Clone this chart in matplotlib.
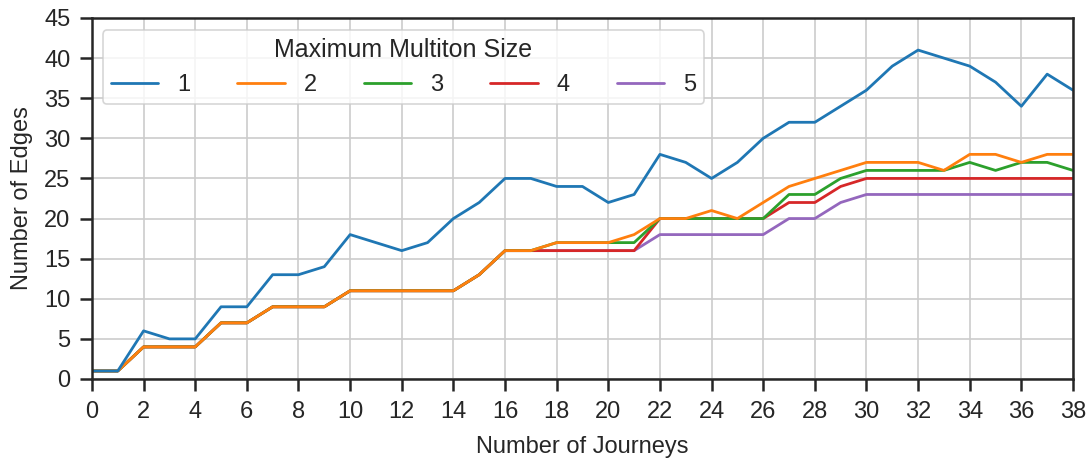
import matplotlib
matplotlib.use("Agg")
import matplotlib.pyplot as plt
import seaborn as sns

journeys = list(range(39))

edges_1 = [1, 1, 6, 5, 5, 9, 9, 13, 13, 14, 18, 17, 16, 17, 20, 22, 25, 25, 24, 24,
           22, 23, 28, 27, 25, 27, 30, 32, 32, 34, 36, 39, 41, 40, 39, 37, 34, 38, 36]
edges_2 = [1, 1, 4, 4, 4, 7, 7, 9, 9, 9, 11, 11, 11, 11, 11, 13, 16, 16, 17, 17,
           17, 18, 20, 20, 21, 20, 22, 24, 25, 26, 27, 27, 27, 26, 28, 28, 27, 28, 28]
edges_3 = [1, 1, 4, 4, 4, 7, 7, 9, 9, 9, 11, 11, 11, 11, 11, 13, 16, 16, 17, 17,
           17, 17, 20, 20, 20, 20, 20, 23, 23, 25, 26, 26, 26, 26, 27, 26, 27, 27, 26]
edges_4 = [1, 1, 4, 4, 4, 7, 7, 9, 9, 9, 11, 11, 11, 11, 11, 13, 16, 16, 16, 16,
           16, 16, 20, 20, 20, 20, 20, 22, 22, 24, 25, 25, 25, 25, 25, 25, 25, 25, 25]
edges_5 = [1, 1, 4, 4, 4, 7, 7, 9, 9, 9, 11, 11, 11, 11, 11, 13, 16, 16, 16, 16,
           16, 16, 18, 18, 18, 18, 18, 20, 20, 22, 23, 23, 23, 23, 23, 23, 23, 23, 23]

series = [("1", edges_1), ("2", edges_2), ("3", edges_3), ("4", edges_4), ("5", edges_5)]

sns.set_style("ticks", {"axes.grid": True})
plt.rcParams["font.family"] = ["Liberation Sans", "DejaVu Sans"]
plt.rcParams["text.color"] = "#262626"
plt.rcParams["axes.labelcolor"] = "#262626"

colors = sns.color_palette("tab10", 5)
fs = 17

fig, ax = plt.subplots(figsize=(10.92, 4.59), dpi=100)
fig.subplots_adjust(left=0.0842, right=0.9826, top=0.9608, bottom=0.1743)

# smaller sizes first so size 1 ends up on top, like the original
for i, ((label, vals), c) in enumerate(zip(series, colors)):
    ax.plot(journeys, vals, color=c, lw=2.0, label=label, zorder=10 - i)

ax.set_xlim(0, 38)
ax.set_ylim(0, 45)
ax.set_xticks(range(0, 39, 2))
ax.set_yticks(range(0, 46, 5))
ax.grid(True, color="#cccccc", lw=1.2)
for s in ax.spines.values():
    s.set_color("#262626")
    s.set_linewidth(1.8)
    s.set_zorder(12)
ax.tick_params(axis="both", length=8.5, width=1.8, color="#262626",
               labelsize=fs, labelcolor="#262626", pad=7)
ax.set_xlabel("Number of Journeys", fontsize=fs, labelpad=10)
ax.set_ylabel("Number of Edges", fontsize=fs, labelpad=8)

leg = ax.legend(title="Maximum Multiton Size", ncol=5, loc="upper left",
                fontsize=fs, title_fontsize=18, frameon=True,
                bbox_to_anchor=(0.011, 0.967), handlelength=2.0,
                columnspacing=2.0, borderpad=0.35, borderaxespad=0)
leg.get_frame().set_edgecolor("#cccccc")
leg.get_frame().set_linewidth(1.2)
leg.set_zorder(20)

fig.savefig("out.png", dpi=100)
